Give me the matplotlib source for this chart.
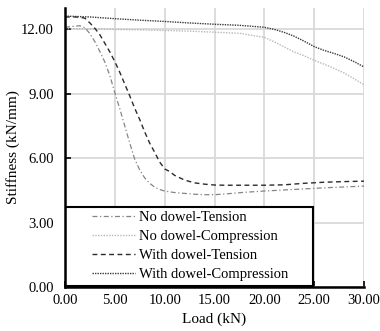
import numpy as np
import matplotlib
matplotlib.use("Agg")
import matplotlib.pyplot as plt
from matplotlib.patches import Rectangle
from matplotlib.ticker import FormatStrFormatter

# load steps (kN) for the tension and compression tests
load_t = [0, 1, 1.5, 2, 2.5, 3, 3.5, 4, 4.5, 5, 5.5, 6, 6.5, 7, 7.5, 8, 8.5,
          9, 9.5, 10, 10.5, 11, 12, 13, 14, 15, 16, 18, 20, 22, 24, 26, 28, 30]
load_c = [0, 2.5, 5, 7.5, 10, 12.5, 15, 17.5, 20, 21, 22, 23, 24, 25, 26, 27,
          28, 29, 30]

# stiffness (kN/mm)
no_dowel_tension = [12.10, 12.15, 12.17, 12.08, 11.80, 11.43, 10.97, 10.48,
                    9.85, 9.05, 8.30, 7.50, 6.70, 5.95, 5.45, 5.08, 4.83,
                    4.65, 4.54, 4.47, 4.43, 4.40, 4.36, 4.32, 4.30, 4.30,
                    4.33, 4.41, 4.47, 4.52, 4.57, 4.62, 4.66, 4.70]
with_dowel_tension = [12.58, 12.58, 12.57, 12.52, 12.30, 12.05, 11.75, 11.35,
                      10.95, 10.50, 10.00, 9.45, 8.90, 8.32, 7.80, 7.22, 6.70,
                      6.27, 5.82, 5.50, 5.38, 5.20, 4.98, 4.85, 4.79, 4.75,
                      4.74, 4.74, 4.74, 4.76, 4.83, 4.88, 4.91, 4.93]
no_dowel_compression = [12.03, 12.03, 12.00, 11.98, 11.95, 11.92, 11.87, 11.82,
                        11.63, 11.42, 11.18, 10.95, 10.77, 10.56, 10.38, 10.18,
                        9.97, 9.70, 9.42]
with_dowel_compression = [12.62, 12.58, 12.50, 12.43, 12.37, 12.30, 12.24,
                          12.19, 12.10, 12.00, 11.86, 11.68, 11.45, 11.20,
                          11.02, 10.88, 10.72, 10.50, 10.25]

x_ticks = [0, 5, 10, 15, 20, 25, 30]
y_ticks = [0, 3, 6, 9, 12]

plt.rcParams['font.family'] = ['Liberation Serif', 'DejaVu Serif']
plt.rcParams['font.size'] = 10.5

fig = plt.figure(figsize=(3.8, 3.31), dpi=100)
ax = fig.add_axes([0.171, 0.133, 0.787, 0.843])

ax.plot(load_t, no_dowel_tension, color='#858585', lw=0.9,
        dashes=(4, 2, 1, 2), label='No dowel-Tension')
ax.plot(load_c, no_dowel_compression, color='#b8b8b8', lw=1.0,
        dashes=(1, 1), label='No dowel-Compression')
ax.plot(load_t, with_dowel_tension, color='#2b2b2b', lw=1.0,
        dashes=(3.5, 2.5), label='With dowel-Tension')
ax.plot(load_c, with_dowel_compression, color='#3a3a3a', lw=1.0,
        dashes=(1, 0.8), label='With dowel-Compression')

ax.set_xlim(0, 30)
ax.set_ylim(0, 13)
ax.set_xticks(x_ticks)
ax.set_yticks(y_ticks)
ax.xaxis.set_major_formatter(FormatStrFormatter('%.2f'))
ax.yaxis.set_major_formatter(FormatStrFormatter('%.2f'))
ax.grid(True, color='#d9d9d9', lw=1.3)
ax.set_axisbelow(True)
ax.tick_params(axis='both', direction='in', length=4, width=1.2, color='black')
ax.tick_params(axis='x', pad=5)
ax.tick_params(axis='y', pad=8)

for side in ['top', 'right']:
    ax.spines[side].set_visible(False)
for side in ['left', 'bottom']:
    ax.spines[side].set_linewidth(1.8)
    ax.spines[side].set_zorder(6)

ax.set_xlabel('Load (kN)', fontsize=11, labelpad=4)
ax.set_ylabel('Stiffness (kN/mm)', fontsize=11, labelpad=1)

# white box behind the legend, covering the lower part of the curves
ax.add_patch(Rectangle((0, 0.004), 0.829, 0.282, transform=ax.transAxes,
                       facecolor='white', edgecolor='black', lw=1.5, zorder=4))
ax.legend(loc='center', bbox_to_anchor=(0.418, 0.148), frameon=False,
          handlelength=3.0, handletextpad=0.25, labelspacing=0.4)

plt.savefig('out.png', dpi=100)
